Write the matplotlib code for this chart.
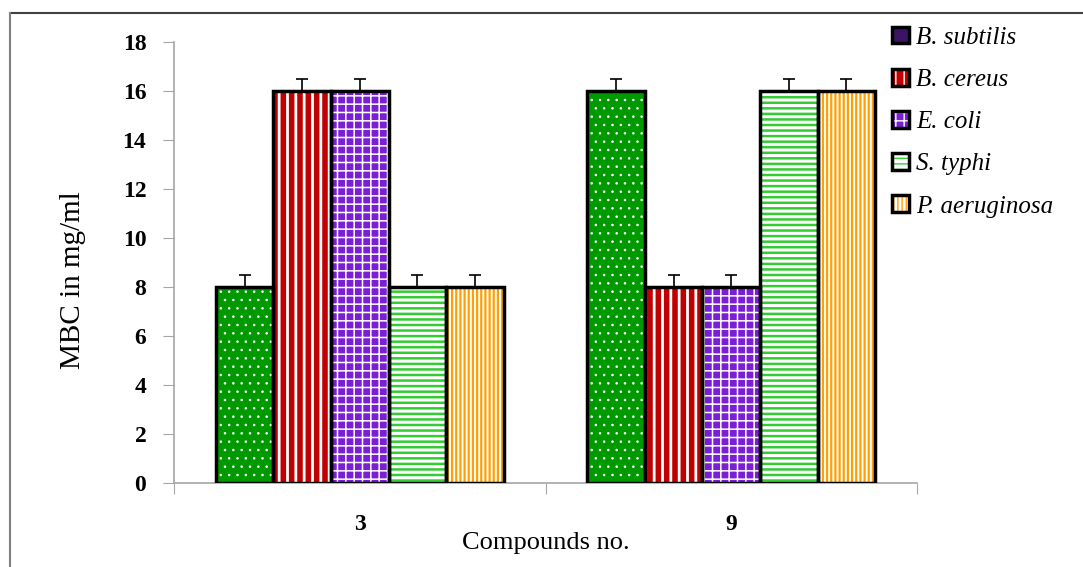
import matplotlib.pyplot as plt
import matplotlib.patches as mpatches
from matplotlib.legend_handler import HandlerTuple
import numpy as np

compounds = ['3', '9']
strains = ['B. subtilis', 'B. cereus', 'E. coli', 'S. typhi', 'P. aeruginosa']
mbc = {
    'B. subtilis': [8, 16],
    'B. cereus': [16, 8],
    'E. coli': [16, 8],
    'S. typhi': [8, 16],
    'P. aeruginosa': [8, 16],
}
err = [0.5, 0.5]

# face colour, hatch colour, hatch pattern, hatch width
styles = [
    ('#009900', 'white', '..', 0.6),
    ('#c00000', 'white', '||', 2.0),
    ('#7a1fd6', 'white', '++', 1.1),
    ('white', '#33cc33', '---', 1.8),
    ('white', '#ffa000', '||||', 1.6),
]
legend_faces = ['#3b1466', None, None, None, None]

serif = ['Liberation Serif', 'DejaVu Serif']


def hatched(fc, hc, h, hw, **kw):
    with plt.rc_context({'hatch.linewidth': hw}):
        p = mpatches.Patch(facecolor=fc, edgecolor=hc, hatch=h, linewidth=0, **kw)
    if hasattr(p, 'set_hatch_linewidth'):
        p.set_hatch_linewidth(hw)
    return p


fig = plt.figure(figsize=(10.83, 5.67), dpi=100)
ax = fig.add_axes([0.1607, 0.1481, 0.8467 - 0.1607, 0.9259 - 0.1481])

x = np.arange(len(compounds))
w = 0.155
for i, s in enumerate(strains):
    fc, hc, h, hw = styles[i]
    pos = x + (i - 2) * w
    with plt.rc_context({'hatch.linewidth': hw}):
        bars = ax.bar(pos, mbc[s], w, color=fc, edgecolor=hc, hatch=h, linewidth=0, zorder=2)
    for b in bars:
        if hasattr(b, 'set_hatch_linewidth'):
            b.set_hatch_linewidth(hw)
    ax.bar(pos, mbc[s], w, fill=False, edgecolor='black', linewidth=2.5, zorder=3)
    ax.errorbar(pos, mbc[s], yerr=[[0, 0], err], fmt='none', ecolor='black',
                elinewidth=1.2, capsize=4.5, capthick=1.2, zorder=4)

ax.set_xlim(-0.5, 1.5)
ax.set_ylim(0, 18)
ax.set_yticks(range(0, 19, 2))
ax.set_xticks([-0.5, 0.5, 1.5], minor=False)
ax.set_xticklabels(['', '', ''])
ax.set_xticks(x, minor=True)
ax.set_xticklabels(compounds, minor=True)
ax.tick_params(axis='x', which='minor', length=0, pad=22)
ax.tick_params(axis='x', which='major', length=8, color='#a6a6a6')
ax.tick_params(axis='y', length=8, color='#a6a6a6', pad=12)
for lab in ax.get_yticklabels() + ax.get_xticklabels(minor=True):
    lab.set_family(serif)
    lab.set_fontweight('bold')
    lab.set_fontsize(17)
for sp in ['top', 'right']:
    ax.spines[sp].set_visible(False)
for sp in ['left', 'bottom']:
    ax.spines[sp].set_color('#a6a6a6')
    ax.spines[sp].set_linewidth(1.2)

ax.set_ylabel('MBC in mg/ml', family=serif, fontsize=21)
ax.yaxis.set_label_coords(-0.118, 0.46)
ax.set_xlabel('Compounds no.', family=serif, fontsize=19, labelpad=-2)

handles = []
for i, s in enumerate(strains):
    fc, hc, h, hw = styles[i]
    border = mpatches.Patch(facecolor='none', edgecolor='black', linewidth=2.5)
    if legend_faces[i]:
        inner = mpatches.Patch(facecolor=legend_faces[i], linewidth=0)
    else:
        inner = hatched(fc, hc, h, hw)
    handles.append((inner, border))
leg = fig.legend(handles, strains, loc='upper left', bbox_to_anchor=(892 / 1083, 0.953),
                 frameon=False, prop={'family': serif, 'style': 'italic', 'size': 18},
                 handler_map={tuple: HandlerTuple(ndivide=1, pad=0)},
                 borderpad=0, borderaxespad=0,
                 handlelength=0.66, handleheight=0.66, handletextpad=0.3, labelspacing=0.8)

# outer frame (top and left edges visible)
fig.add_artist(plt.Line2D([10 / 1083, 1], [1 - 13 / 567, 1 - 13 / 567], color='#404040', lw=1.5))
fig.add_artist(plt.Line2D([10 / 1083, 10 / 1083], [0, 1 - 13 / 567], color='#808080', lw=1.5))

fig.savefig('out.png', dpi=100)
